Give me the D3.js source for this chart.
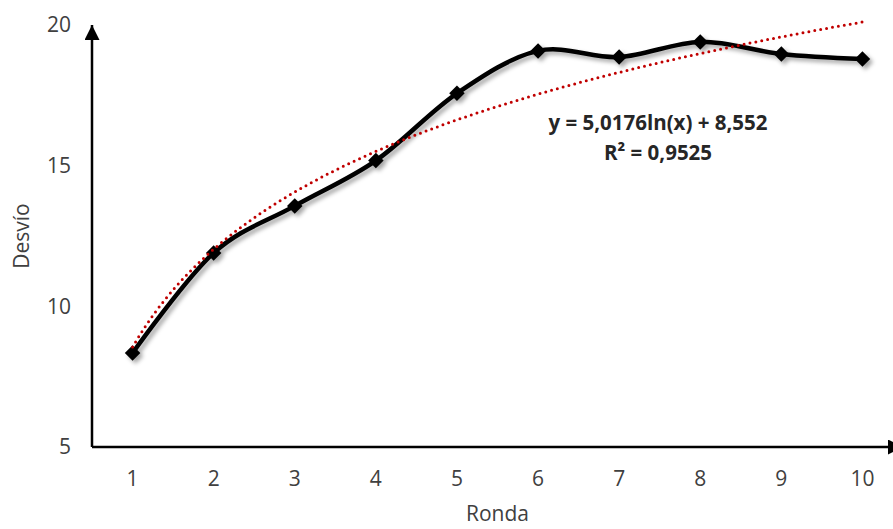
<!DOCTYPE html>
<html>
<head>
<meta charset="utf-8">
<script src="https://cdn.jsdelivr.net/npm/d3@7"></script>
<style>
  body { margin: 0; background: #fff; }
  text { font-family: "Open Sans", sans-serif; }
</style>
</head>
<body>
<div id="chart"></div>
<script>
// Data
var rondas = [1, 2, 3, 4, 5, 6, 7, 8, 9, 10];
var desvio = [8.34, 11.9, 13.57, 15.18, 17.57, 19.08, 18.86, 19.4, 18.97, 18.79];
var yTicks = [5, 10, 15, 20];
// logarithmic trendline as printed on the chart
var trendA = 5.0176, trendB = 8.552;
var trendLabel = "y = 5,0176ln(x) + 8,552";
var r2Label = "R² = 0,9525";

var width = 893, height = 529;
var margin = { top: 25, right: -10, bottom: 82, left: 92 };

var svg = d3.select("#chart").append("svg")
  .attr("width", width)
  .attr("height", height);

var defs = svg.append("defs");

// shadow under the data line
var shadow = defs.append("filter")
  .attr("id", "shadow")
  .attr("x", "-10%").attr("y", "-10%")
  .attr("width", "120%").attr("height", "120%");
shadow.append("feDropShadow")
  .attr("dx", 3).attr("dy", 3)
  .attr("stdDeviation", 2)
  .attr("flood-color", "#000")
  .attr("flood-opacity", 0.35);

// arrow head for the axes
defs.append("marker")
  .attr("id", "arrow")
  .attr("viewBox", "0 0 10 10")
  .attr("refX", 10).attr("refY", 5)
  .attr("markerWidth", 6).attr("markerHeight", 6)
  .attr("markerUnits", "strokeWidth")
  .attr("orient", "auto")
  .append("path")
  .attr("d", "M0,0 L10,5 L0,10 Z")
  .attr("fill", "#000");

var x = d3.scalePoint()
  .domain(rondas)
  .range([margin.left, width - margin.right])
  .padding(0.5);

var y = d3.scaleLinear()
  .domain([5, 20])
  .range([height - margin.bottom, margin.top]);

var x0 = margin.left, y0 = y(5);

// axes lines with arrows
svg.append("line")
  .attr("x1", x0).attr("y1", y0)
  .attr("x2", x0).attr("y2", y(20))
  .attr("stroke", "#000").attr("stroke-width", 2.5)
  .attr("marker-end", "url(#arrow)");

svg.append("line")
  .attr("x1", x0).attr("y1", y0)
  .attr("x2", width - margin.right).attr("y2", y0)
  .attr("stroke", "#000").attr("stroke-width", 2.5)
  .attr("marker-end", "url(#arrow)");

// tick labels
svg.append("g").selectAll("text")
  .data(yTicks)
  .join("text")
  .attr("x", 71)
  .attr("y", d => y(d))
  .attr("dy", "0.35em")
  .attr("text-anchor", "end")
  .attr("fill", "#404040")
  .style("font-size", "21px")
  .text(d => d);

svg.append("g").selectAll("text")
  .data(rondas)
  .join("text")
  .attr("x", d => x(d))
  .attr("y", 479)
  .attr("dy", "0.35em")
  .attr("text-anchor", "middle")
  .attr("fill", "#404040")
  .style("font-size", "21px")
  .text(d => d);

// axis titles
svg.append("text")
  .attr("transform", "translate(22," + (margin.top + y0) / 2 + ") rotate(-90)")
  .attr("dy", "0.35em")
  .attr("text-anchor", "middle")
  .attr("fill", "#404040")
  .style("font-size", "21px")
  .text("Desvío");

svg.append("text")
  .attr("x", (x0 + width - margin.right) / 2)
  .attr("y", 514)
  .attr("dy", "0.35em")
  .attr("text-anchor", "middle")
  .attr("fill", "#404040")
  .style("font-size", "21px")
  .text("Ronda");

// data line with diamonds
var series = rondas.map((r, i) => ({ r: r, v: desvio[i] }));

var lineGen = d3.line()
  .x(d => x(d.r))
  .y(d => y(d.v))
  .curve(d3.curveCardinal.tension(0));

var dataG = svg.append("g").attr("filter", "url(#shadow)");

dataG.append("path")
  .datum(series)
  .attr("fill", "none")
  .attr("stroke", "#000")
  .attr("stroke-width", 4.5)
  .attr("d", lineGen);

dataG.selectAll("path.pt")
  .data(series)
  .join("path")
  .attr("class", "pt")
  .attr("d", d3.symbol().type(d3.symbolSquare).size(120))
  .attr("transform", d => "translate(" + x(d.r) + "," + y(d.v) + ") rotate(45)")
  .attr("fill", "#000");

// trendline from the printed coefficients
var trendX = d3.range(1, 10.001, 0.05);
var trendLine = d3.line()
  .x(t => x(1) + (t - 1) * (x(2) - x(1)))
  .y(t => y(trendA * Math.log(t) + trendB));

svg.append("path")
  .datum(trendX)
  .attr("fill", "none")
  .attr("stroke", "#c00000")
  .attr("stroke-width", 3)
  .attr("stroke-linecap", "round")
  .attr("stroke-dasharray", "0 6")
  .attr("d", trendLine);

// equation label
svg.append("text")
  .attr("x", 658)
  .attr("y", 123)
  .attr("dy", "0.35em")
  .attr("text-anchor", "middle")
  .attr("fill", "#262626")
  .style("font-size", "20.5px")
  .style("font-weight", "bold")
  .text(trendLabel);

svg.append("text")
  .attr("x", 658)
  .attr("y", 153)
  .attr("dy", "0.35em")
  .attr("text-anchor", "middle")
  .attr("fill", "#262626")
  .style("font-size", "20.5px")
  .style("font-weight", "bold")
  .text(r2Label);
</script>
</body>
</html>
